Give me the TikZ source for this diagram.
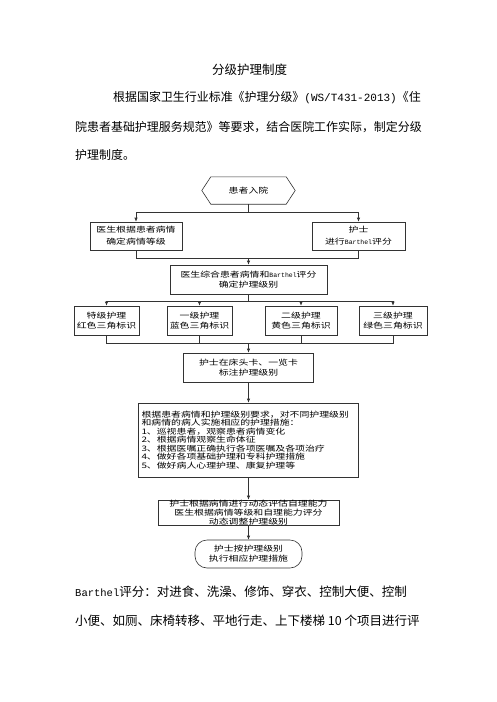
\documentclass[tikz,border=0pt]{standalone}
\usepackage{fontspec}
\usetikzlibrary{arrows.meta}
\newfontfamily\cjk{Noto Sans CJK SC}
\newfontfamily\fcjk[FakeStretch=1.3]{Noto Sans CJK SC}
\newfontfamily\monof{Liberation Mono}
\newcommand\fcf{\fcjk\fontsize{7.6}{10}\selectfont}
\newcommand\bart{{\monof\fontsize{6.5}{10}\selectfont Barthel}}
\tikzset{
  body/.style={font=\cjk\fontsize{11.95}{14}\selectfont, inner sep=0pt, anchor=west, text=black},
  bodyb/.style={body, font=\cjk\fontsize{12.5}{14}\selectfont},
  fbox/.style={draw=black!80, line width=0.6pt, inner sep=1pt, align=center, font=\fcf},
  ln/.style={draw=black!80, line width=0.6pt},
  arr/.style={ln, -{Latex[length=4pt,width=3.4pt]}},
}
\begin{document}
\begin{tikzpicture}[x=1pt,y=-1pt]
\useasboundingbox (0,0) rectangle (496,702);
\fill[white] (0,0) rectangle (496,702);
% page text
\node[bodyb, anchor=center] (title) at (249.5,70) {分级护理制度};
\node[body] (p1) at (113,98) {根据国家卫生行业标准《护理分级》{\monof\fontsize{11}{14}\selectfont (WS/T431-2013)}《住};
\node[body] (p2) at (75,127) {院患者基础护理服务规范》等要求，结合医院工作实际，制定分级};
\node[body] (p3) at (75,155) {护理制度。};
\node[bodyb] (q1) at (75,592) {{\monof\fontsize{10.5}{14}\selectfont Barthel}评分：对进食、洗澡、修饰、穿衣、控制大便、控制};
\node[bodyb] (q2) at (75,621) {小便、如厕、床椅转移、平地行走、上下楼梯 10 个项目进行评};
% flowchart
\node[font=\fcf, minimum width=93pt, minimum height=27pt, inner sep=0pt] (start) at (248.5,190.5) {患者入院};
\draw[ln] (start.west) -- ([xshift=9pt]start.north west) -- ([xshift=-9pt]start.north east) -- (start.east) -- ([xshift=-9pt]start.south east) -- ([xshift=9pt]start.south west) -- cycle;
\node[fbox, minimum width=92pt, minimum height=28pt, font=\fcjk\fontsize{7.6}{12}\selectfont] (L) at (136,236) {医生根据患者病情\\确定病情等级};
\node[fbox, minimum width=93pt, minimum height=28pt, font=\fcjk\fontsize{7.6}{12}\selectfont] (R) at (358.5,236) {护士\\进行\bart 评分};
\coordinate (sp1) at (248.5,212);
\draw[ln] (start.south) -- (sp1);
\draw[arr] (sp1) -| (L.north);
\draw[arr] (sp1) -| (R.north);
\node[fbox, minimum width=157pt, minimum height=29pt] (B3) at (248.5,279.5) {医生综合患者病情和\bart 评分\\确定护理级别};
\coordinate (mg1) at (248.5,258);
\draw[ln] (L.south) |- (mg1);
\draw[ln] (R.south) |- (mg1);
\draw[arr] (mg1) -- (B3.north);
\node[fbox, minimum width=65pt, minimum height=29pt] (A) at (106.5,320.5) {特级护理\\红色三角标识};
\node[fbox, minimum width=65pt, minimum height=29pt] (B) at (199.5,320.5) {一级护理\\蓝色三角标识};
\node[fbox, minimum width=72pt, minimum height=29pt] (C) at (301,320.5) {二级护理\\黄色三角标识};
\node[fbox, minimum width=68pt, minimum height=29pt] (D) at (393,320.5) {三级护理\\绿色三角标识};
\coordinate (sp2) at (248.5,301);
\draw[ln] (B3.south) -- (sp2);
\draw[arr] (sp2) -| (A.north);
\draw[arr] (sp2) -| (B.north);
\draw[arr] (sp2) -| (C.north);
\draw[arr] (sp2) -| (D.north);
\node[fbox, minimum width=130pt, minimum height=29pt] (B5) at (248.5,367.5) {护士在床头卡、一览卡\\标注护理级别};
\coordinate (mg2) at (248.5,343);
\draw[ln] (A.south) |- (mg2);
\draw[ln] (B.south) |- (mg2);
\draw[ln] (C.south) |- (mg2);
\draw[ln] (D.south) |- (mg2);
\draw[arr] (mg2) -- (B5.north);
\node[fbox, minimum width=220pt, minimum height=74pt, text width=214pt, inner sep=3pt, align=left, font=\fcjk\fontsize{7.6}{8.5}\selectfont] (Big) at (248.5,440) {根据患者病情和护理级别要求，对不同护理级别\\和病情的病人实施相应的护理措施：\\1、巡视患者，观察患者病情变化\\2、根据病情观察生命体征\\3、根据医嘱正确执行各项医嘱及各项治疗\\4、做好各项基础护理和专科护理措施\\5、做好病人心理护理、康复护理等};
\draw[arr] (B5.south) -- (Big.north);
\node[fbox, minimum width=181pt, minimum height=25pt, inner sep=0pt, font=\fcjk\fontsize{7.6}{9}\selectfont] (B7) at (248.5,512.5) {护士根据病情进行动态评估自理能力\\医生根据病情等级和自理能力评分\\动态调整护理级别};
\draw[arr] (Big.south) -- (B7.north);
\node[fbox, rounded corners=12pt, minimum width=107pt, minimum height=28pt] (T) at (248.5,554) {护士按护理级别\\执行相应护理措施};
\draw[arr] (B7.south) -- (T.north);
\end{tikzpicture}
\end{document}
